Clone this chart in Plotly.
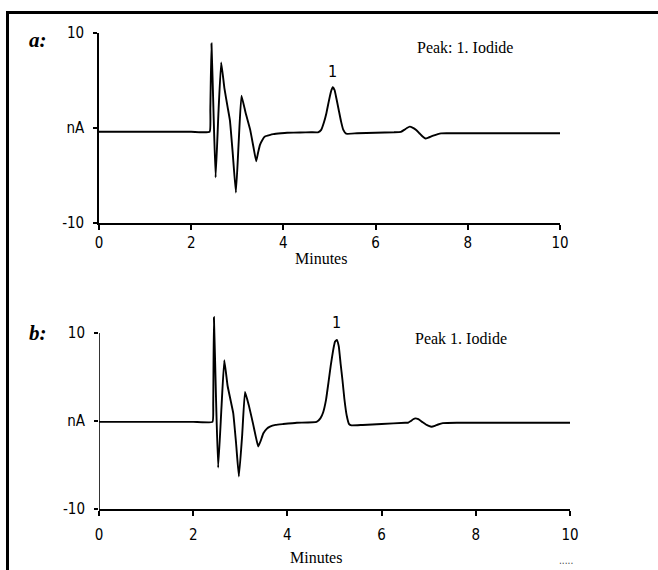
import plotly.graph_objects as go

# ---------------- data ----------------
time_a = [0.0, 1.0, 2.0, 2.40, 2.415, 2.44, 2.485, 2.53, 2.59, 2.65, 2.72, 2.79, 2.84, 2.90, 2.97,
          3.03, 3.09, 3.18, 3.28, 3.35, 3.41, 3.45, 3.49, 3.55, 3.60, 3.70, 3.78, 3.95, 4.08, 4.36,
          4.60, 4.75, 4.82, 4.88, 4.93, 4.98, 5.03, 5.07, 5.11, 5.15, 5.20, 5.25, 5.30, 5.36,
          5.60, 6.00, 6.40, 6.55, 6.62, 6.68, 6.74, 6.80, 6.88, 6.95, 7.02, 7.08, 7.15, 7.25,
          7.42, 7.60, 8.50, 10.0]
signal_a = [-0.4, -0.4, -0.4, -0.4, 2.0, 8.9, 1.5, -5.2, 1.5, 6.9, 4.2, 2.2, 0.8, -2.6, -6.8,
            -1.5, 3.4, 1.6, -0.2, -2.0, -3.5, -2.6, -1.8, -1.2, -0.9, -0.75, -0.65, -0.55, -0.5, -0.47,
            -0.45, -0.45, -0.2, 0.6, 1.5, 2.7, 3.8, 4.3, 4.0, 3.1, 1.9, 0.7, -0.2, -0.6,
            -0.55, -0.5, -0.45, -0.4, -0.2, 0.0, 0.14, 0.05, -0.2, -0.55, -0.9, -1.1, -1.0, -0.8,
            -0.56, -0.55, -0.55, -0.55]

time_b = [0.0, 1.0, 2.0, 2.41, 2.425, 2.44, 2.485, 2.53, 2.60, 2.66, 2.73, 2.80, 2.85, 2.91, 2.97,
          3.04, 3.10, 3.18, 3.27, 3.33, 3.38, 3.43, 3.49, 3.56, 3.63, 3.75, 3.91, 4.20, 4.62,
          4.70, 4.76, 4.82, 4.87, 4.92, 4.97, 5.01, 5.05, 5.09, 5.13, 5.17, 5.21, 5.26, 5.31, 5.36,
          5.60, 6.00, 6.50, 6.56, 6.62, 6.67, 6.72, 6.78, 6.86, 6.94, 7.00, 7.06, 7.13, 7.20,
          7.30, 7.60, 8.50, 10.0]
signal_b = [-0.1, -0.1, -0.1, -0.1, 2.0, 11.8, 2.5, -5.3, 1.5, 6.9, 4.0, 2.2, 0.9, -2.5, -6.3,
            -1.6, 3.3, 1.8, -0.3, -1.8, -2.9, -2.3, -1.4, -0.9, -0.65, -0.45, -0.35, -0.2, -0.1,
            0.3, 1.0, 2.4, 4.3, 6.3, 8.0, 9.0, 9.2, 8.5, 6.5, 4.6, 2.5, 0.6, -0.35, -0.5,
            -0.45, -0.35, -0.2, -0.2, 0.0, 0.2, 0.3, 0.2, -0.1, -0.4, -0.55, -0.65, -0.55, -0.4,
            -0.25, -0.2, -0.2, -0.2]

x_ticks = [0, 2, 4, 6, 8, 10]
y_ticks = [-10, 0, 10]
y_ticktext = ["-10", "nA", "10"]
peak_label = "1"
title_a = "Peak: 1. Iodide"
title_b = "Peak 1. Iodide"
panel_a = "a:"
panel_b = "b:"
x_title = "Minutes"

# ---------------- figure ----------------
W, H = 658, 570
def px(x):
    return x / W
def py(y):
    return 1 - y / H

NARROW = "DejaVu Sans Condensed, Liberation Sans Narrow, Arial Narrow, sans-serif"
TICK_FONT = dict(family=NARROW, size=15, color="black")
SERIF = "Liberation Serif, Times New Roman, serif"

LINE = dict(color="black", width=1.9, shape="spline", smoothing=0.35)
fig = go.Figure()
fig.add_trace(go.Scatter(x=time_a, y=signal_a, mode="lines", xaxis="x", yaxis="y",
                         line=LINE, showlegend=False, hoverinfo="skip"))
fig.add_trace(go.Scatter(x=time_b, y=signal_b, mode="lines", xaxis="x2", yaxis="y2",
                         line=LINE, showlegend=False, hoverinfo="skip"))

xcommon = dict(range=[0, 10], tickvals=x_ticks, showline=True, linecolor="black", linewidth=1.6,
               ticks="outside", ticklen=5, tickwidth=1.5, tickcolor="black", showgrid=False,
               zeroline=False, tickfont=TICK_FONT, fixedrange=True, automargin=False)
ycommon = dict(tickvals=y_ticks, ticktext=y_ticktext, ticks="outside", ticklen=4, tickwidth=1.5,
               tickcolor="black", showgrid=False, zeroline=False, tickfont=TICK_FONT,
               ticklabelstandoff=6, fixedrange=True, automargin=False)

fig.update_layout(
    width=W, height=H, autosize=False, margin=dict(l=0, r=0, t=0, b=0, pad=0),
    paper_bgcolor="white", plot_bgcolor="rgba(0,0,0,0)",
    xaxis=dict(domain=[px(99), px(560)], anchor="y", ticklabelstandoff=0, **xcommon),
    yaxis=dict(domain=[py(223), py(33)], anchor="x", range=[-10, 10], showline=True,
               linecolor="black", linewidth=1.6, **ycommon),
    xaxis2=dict(domain=[px(99), px(570)], anchor="y2", ticklabelstandoff=6, **xcommon),
    yaxis2=dict(domain=[py(509), py(313.6)], anchor="x2", range=[-10, 12.2], showline=False,
                **ycommon),
)

shapes = [
    # y-axis line of panel b (stops at the 10 tick)
    dict(type="line", xref="x2", yref="y2", x0=0, x1=0, y0=-10, y1=10,
         line=dict(color="black", width=1.6)),
    # frame: top and left edges
    dict(type="line", xref="paper", yref="paper", x0=px(6), x1=1, y0=py(12.5), y1=py(12.5),
         line=dict(color="black", width=3)),
    dict(type="line", xref="paper", yref="paper", x0=px(7.5), x1=px(7.5), y0=py(11), y1=0,
         line=dict(color="black", width=3)),
]
fig.update_layout(shapes=shapes)

# peak positions taken from the data (peak 1 region)
def peak_pos(t, s, lo, hi):
    cand = [(v, x) for x, v in zip(t, s) if lo <= x <= hi]
    v, x = max(cand)
    return x, v

pa_x, pa_y = peak_pos(time_a, signal_a, 4.5, 5.6)
pb_x, pb_y = peak_pos(time_b, signal_b, 4.5, 5.6)

C = dict(xanchor="center", yanchor="middle", showarrow=False)
ann = [
    dict(x=pa_x, y=pa_y, xref="x", yref="y", text=peak_label, yshift=16,
         font=dict(family=NARROW, size=16, color="black"), **C),
    dict(x=pb_x, y=pb_y, xref="x2", yref="y2", text=peak_label, yshift=18,
         font=dict(family=NARROW, size=16, color="black"), **C),
    dict(x=px(465), y=py(47), xref="paper", yref="paper", text=title_a,
         font=dict(family=SERIF, size=16, color="black"), **C),
    dict(x=px(461), y=py(338), xref="paper", yref="paper", text=title_b,
         font=dict(family=SERIF, size=16, color="black"), **C),
    dict(x=px(321), y=py(258), xref="paper", yref="paper", text=x_title,
         font=dict(family=SERIF, size=16, color="black"), **C),
    dict(x=px(316), y=py(557), xref="paper", yref="paper", text=x_title,
         font=dict(family=SERIF, size=16, color="black"), **C),
    dict(x=px(38), y=py(40), xref="paper", yref="paper", text="<b><i>" + panel_a + "</i></b>",
         font=dict(family=SERIF, size=21, color="black"), **C),
    dict(x=px(38), y=py(333), xref="paper", yref="paper", text="<b><i>" + panel_b + "</i></b>",
         font=dict(family=SERIF, size=21, color="black"), **C),
    dict(x=px(566), y=py(560), xref="paper", yref="paper", text=".....",
         font=dict(family=NARROW, size=10, color="#444"), **C),
]
fig.update_layout(annotations=ann)

fig.write_html("out.html", config={"responsive": False, "displayModeBar": False},
               post_script="document.body.style.margin='0';document.body.style.overflow='hidden';")
